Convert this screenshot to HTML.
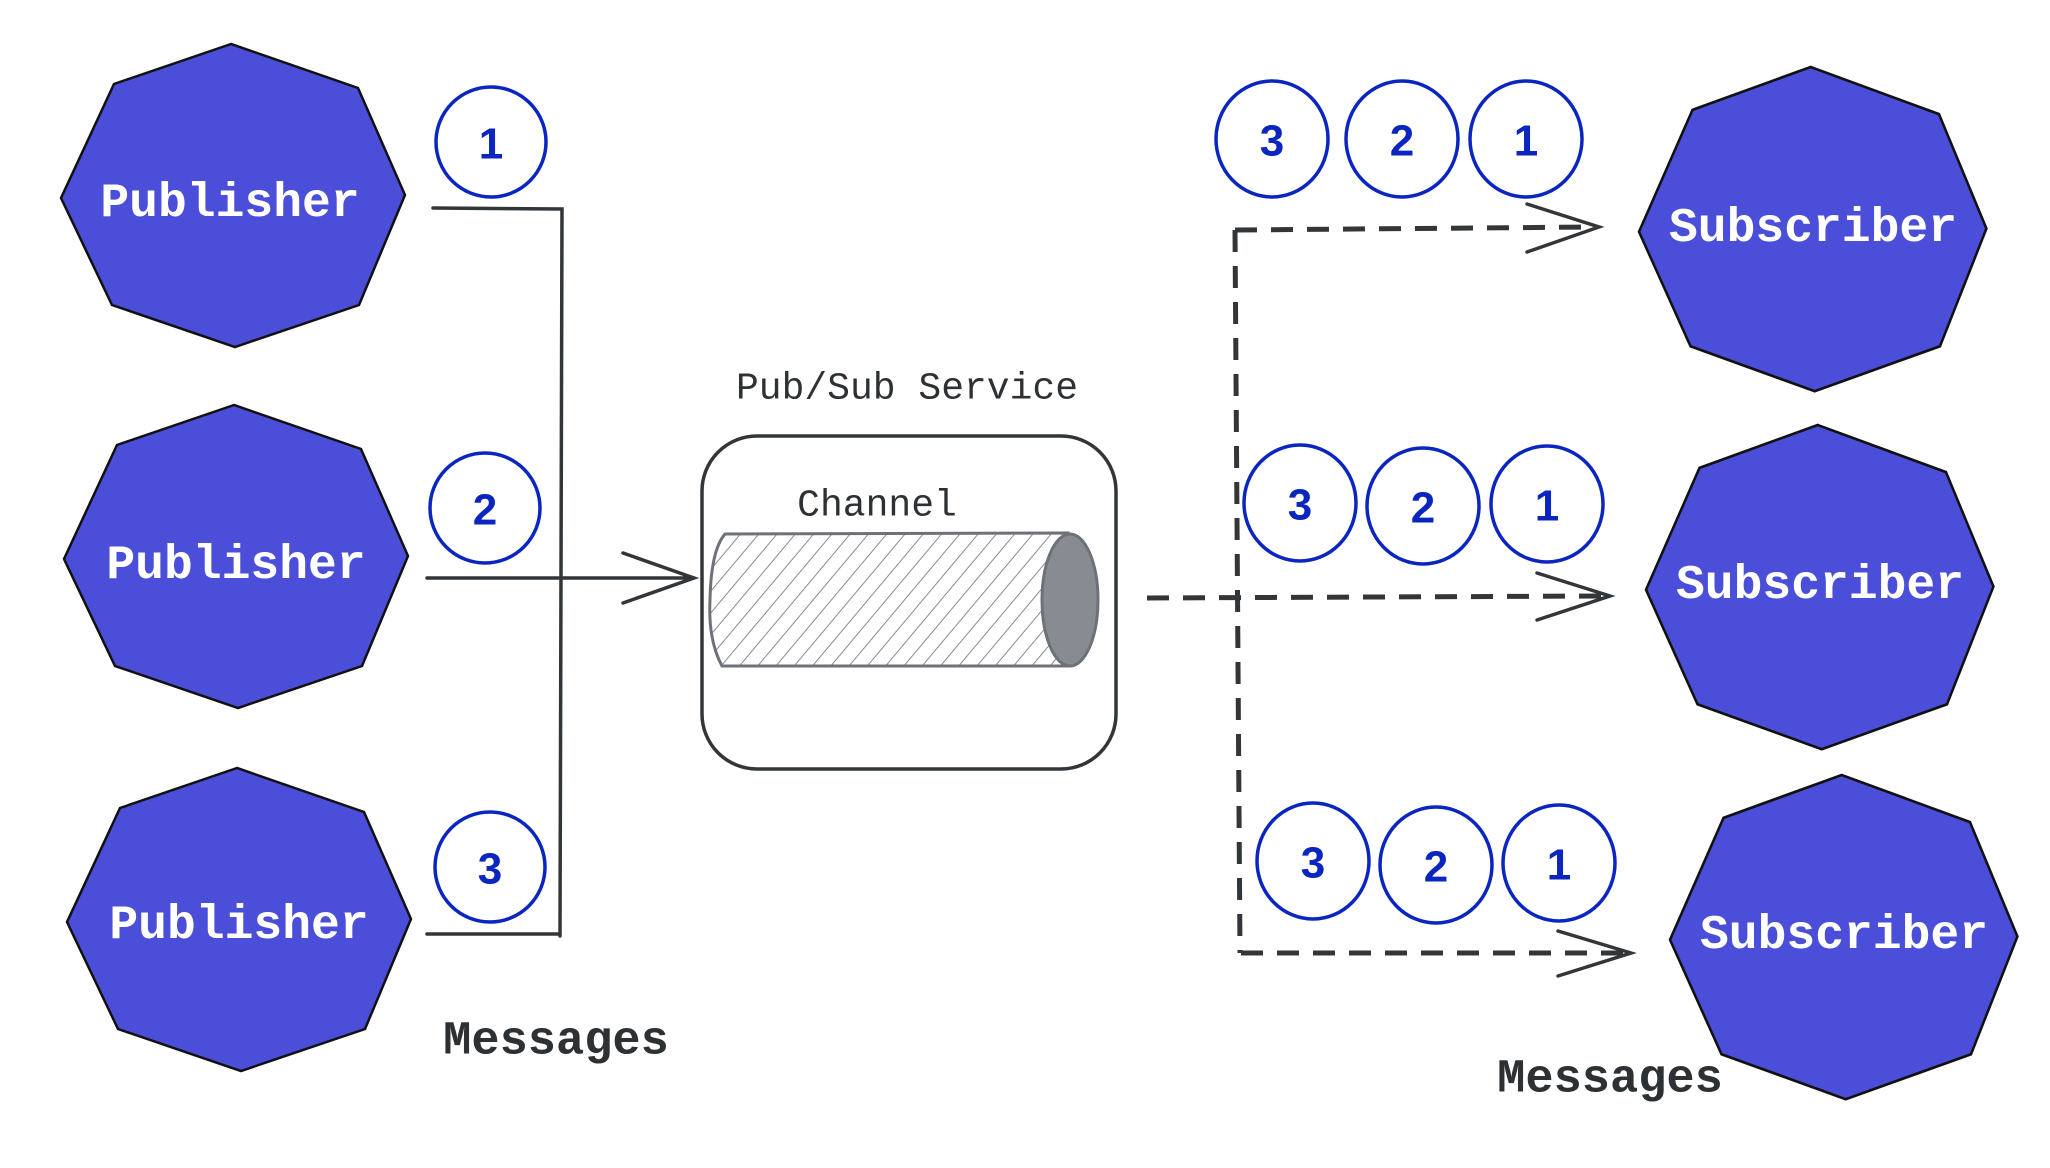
<!DOCTYPE html>
<html><head><meta charset="utf-8"><style>
html,body{margin:0;padding:0;background:#fff;}
svg{display:block}
.oct{fill:#4a4ed9;stroke:#111;stroke-width:2.5}
.pt{font-family:"Liberation Mono",monospace;font-weight:bold;font-size:48px;fill:#fff;text-anchor:middle;dominant-baseline:central}
.cir{fill:none;stroke:#0b26c0;stroke-width:3.5}
.num{font-family:"Liberation Sans",sans-serif;font-weight:bold;font-size:44px;fill:#0b26c0;text-anchor:middle;dominant-baseline:central}
.ln{fill:none;stroke:#333638;stroke-width:3.5;stroke-linecap:round}
.dl{fill:none;stroke:#333638;stroke-width:5;stroke-dasharray:22 14}
.lab{font-family:"Liberation Mono",monospace;fill:#2e3133}
</style></head><body>
<svg width="2050" height="1168" viewBox="0 0 2050 1168">
<defs>
<pattern id="h" width="14" height="14" patternUnits="userSpaceOnUse" patternTransform="rotate(40)">
<line x1="0" y1="0" x2="0" y2="14" stroke="#888b90" stroke-width="2"/>
</pattern>
<polygon id="o" points="170,0 53,40 0,154 51,261 174,303 298,261 344,151 297,44"/>
</defs>
<use href="#o" class="oct" transform="translate(61,44)"/>
<use href="#o" class="oct" transform="translate(64,405)"/>
<use href="#o" class="oct" transform="translate(67,768)"/>
<text class="pt" x="230" y="204">Publisher</text>
<text class="pt" x="236" y="566">Publisher</text>
<text class="pt" x="239" y="926">Publisher</text>
<use href="#o" class="oct" transform="translate(1639,67) scale(1.01,1.07)"/>
<use href="#o" class="oct" transform="translate(1646,425) scale(1.01,1.07)"/>
<use href="#o" class="oct" transform="translate(1670,775) scale(1.01,1.07)"/>
<text class="pt" x="1813" y="229">Subscriber</text>
<text class="pt" x="1820" y="586">Subscriber</text>
<text class="pt" x="1844" y="936">Subscriber</text>
<circle class="cir" cx="491" cy="142" r="55"/><text class="num" x="491" y="144">1</text>
<circle class="cir" cx="485" cy="508" r="55"/><text class="num" x="485" y="510">2</text>
<circle class="cir" cx="490" cy="867" r="55"/><text class="num" x="490" y="869">3</text>
<path class="ln" d="M433,208 L562,209 L560,936 M427,934 L560,934 M427,578 L694,578 M623,553 L694,578 L623,603"/>
<text class="lab" x="907" y="389" font-size="38" text-anchor="middle" dominant-baseline="central">Pub/Sub Service</text>
<rect x="702" y="436" width="414" height="333" rx="55" fill="none" stroke="#333638" stroke-width="3.5"/>
<text class="lab" x="877" y="506" font-size="38" text-anchor="middle" dominant-baseline="central">Channel</text>
<path d="M725,534 L1068,533 L1068,666 L722,666 Q708,640 710,600 Q711,550 725,534 Z" fill="url(#h)" stroke="#6e7178" stroke-width="3"/>
<ellipse cx="1070" cy="600" rx="28" ry="66" fill="#888b92" stroke="#6e7178" stroke-width="3"/>
<path class="dl" d="M1235,230 L1240,953 M1235,230 L1595,227 M1147,598 L1605,596 M1241,953 L1628,953"/>
<path class="ln" d="M1527,204 L1599,227 L1527,252 M1537,573 L1610,596 L1537,620 M1558,931 L1631,953 L1558,976" stroke-width="4.5"/>
<g>
<ellipse class="cir" cx="1272" cy="139" rx="56" ry="58"/><text class="num" x="1272" y="141">3</text>
<ellipse class="cir" cx="1402" cy="139" rx="56" ry="58"/><text class="num" x="1402" y="141">2</text>
<ellipse class="cir" cx="1526" cy="139" rx="56" ry="58"/><text class="num" x="1526" y="141">1</text>
<ellipse class="cir" cx="1300" cy="503" rx="56" ry="58"/><text class="num" x="1300" y="505">3</text>
<ellipse class="cir" cx="1423" cy="506" rx="56" ry="58"/><text class="num" x="1423" y="508">2</text>
<ellipse class="cir" cx="1547" cy="504" rx="56" ry="58"/><text class="num" x="1547" y="506">1</text>
<ellipse class="cir" cx="1313" cy="861" rx="56" ry="58"/><text class="num" x="1313" y="863">3</text>
<ellipse class="cir" cx="1436" cy="865" rx="56" ry="58"/><text class="num" x="1436" y="867">2</text>
<ellipse class="cir" cx="1559" cy="863" rx="56" ry="58"/><text class="num" x="1559" y="865">1</text>
</g>
<text class="lab" x="556" y="1042" font-size="47" font-weight="bold" text-anchor="middle" dominant-baseline="central">Messages</text>
<text class="lab" x="1610" y="1080" font-size="47" font-weight="bold" text-anchor="middle" dominant-baseline="central">Messages</text>
</svg>
</body></html>
